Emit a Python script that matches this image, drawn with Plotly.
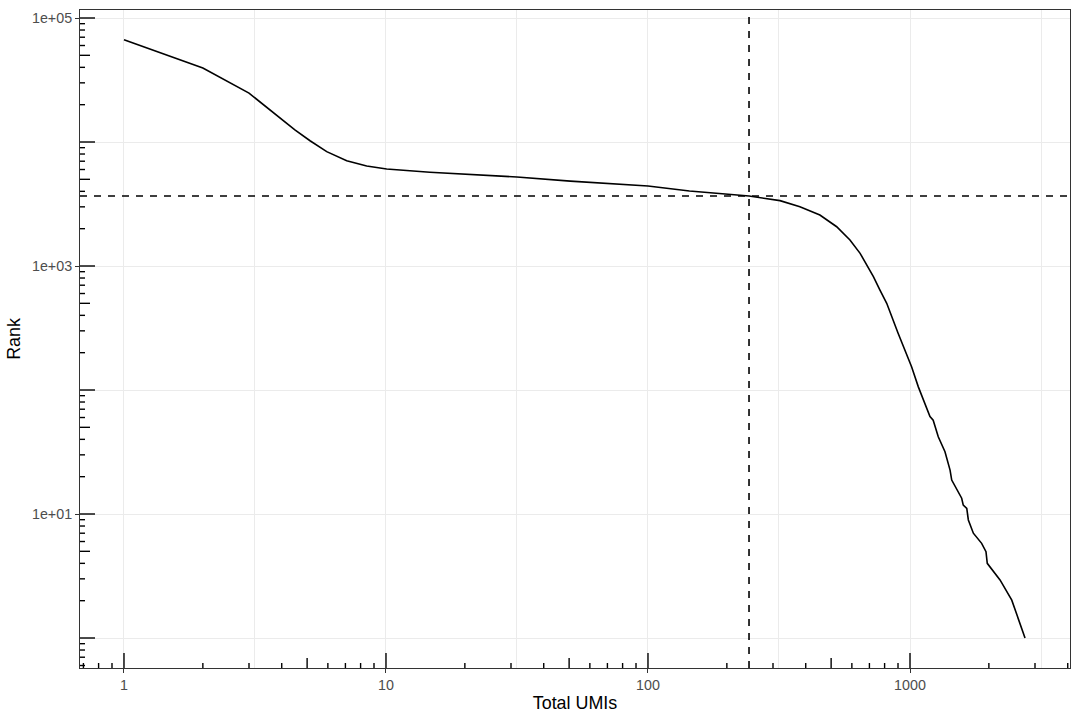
import math
import plotly.graph_objects as go

# ---- data ----
total_umis = [1, 2.0, 3.0, 4.49, 5.13, 5.94, 7.08, 8.44, 10.06, 14.7, 31.6, 50.5, 100, 144,
              243, 268, 319, 380, 453, 525, 590, 645, 683, 725, 768, 815, 900, 1014, 1076, 1192,
              1226, 1282, 1360, 1422, 1443, 1507, 1575, 1597, 1647, 1670, 1745, 1877, 1950, 1972,
              2206, 2446, 2748]
rank = [66700, 39500, 24800, 12500, 10240, 8360, 7060, 6400, 6050, 5700, 5220, 4840, 4420,
        4030, 3670, 3556, 3365, 3008, 2577, 2074, 1620, 1265, 1018, 820, 640, 500, 288, 154, 106,
        61, 57, 42, 31.8, 22.6, 18.8, 16.1, 13.4, 11.8, 11.1, 8.95, 7.0, 5.8, 4.97, 4.0, 2.94,
        2.02, 1]

knee_umis = 243
knee_rank = 3670

x_tick_vals = [1, 10, 100, 1000]
x_tick_text = ["1", "10", "100", "1000"]
y_tick_vals = [10, 1000, 100000]
y_tick_text = ["1e+01", "1e+03", "1e+05"]
x_minor_vals = [10 ** 0.5, 10 ** 1.5, 10 ** 2.5, 10 ** 3.5]
y_minor_vals = [1, 100, 10000]

X_RANGE = [-0.1679, 3.6107]
Y_RANGE = [-0.2419, 5.0645]

fig = go.Figure()

fig.add_trace(go.Scatter(x=total_umis, y=rank, mode="lines",
                         line=dict(color="black", width=1.6),
                         showlegend=False, hoverinfo="skip"))

# knee lines
fig.add_shape(type="line", xref="x", yref="paper", x0=knee_umis, x1=knee_umis, y0=0, y1=1,
              line=dict(color="black", width=1.6, dash="7px,7px"))
fig.add_shape(type="line", xref="paper", yref="y", x0=0, x1=1, y0=knee_rank, y1=knee_rank,
              line=dict(color="black", width=1.6, dash="7px,7px"))

# annotation_logticks (bottom and left)
def tick_len(m):
    return 15 if m == 1 else (10 if m == 5 else 5)

for k in range(-1, 6):
    for m in range(1, 10):
        v = m * 10 ** k
        lv = math.log10(v)
        if X_RANGE[0] <= lv <= X_RANGE[1]:
            fig.add_shape(type="line", xref="x", x0=v, x1=v,
                          yref="paper", ysizemode="pixel", yanchor=0, y0=0, y1=tick_len(m),
                          line=dict(color="black", width=1.4))
        if Y_RANGE[0] <= lv <= Y_RANGE[1]:
            fig.add_shape(type="line", yref="y", y0=v, y1=v,
                          xref="paper", xsizemode="pixel", xanchor=0, x0=0, x1=tick_len(m),
                          line=dict(color="black", width=1.4))

axis_common = dict(
    type="log",
    showline=True, mirror=True, linecolor="#333333", linewidth=1,
    ticks="outside", ticklen=4, tickwidth=1, tickcolor="#333333",
    showgrid=True, gridcolor="#EBEBEB", gridwidth=1.3,
    zeroline=False,
    tickfont=dict(family="Liberation Sans, Arial, sans-serif", size=14.3, color="#4D4D4D"),
)

fig.update_xaxes(**axis_common, range=X_RANGE, tickmode="array",
                 tickvals=x_tick_vals, ticktext=x_tick_text,
                 minor=dict(tickmode="array", tickvals=x_minor_vals, showgrid=True,
                            gridcolor="#EBEBEB", gridwidth=0.8, ticks=""),
                 title=dict(text="Total UMIs", standoff=4,
                            font=dict(family="Liberation Sans, Arial, sans-serif", size=17.9, color="black")))
fig.update_yaxes(**axis_common, range=Y_RANGE, tickmode="array",
                 tickvals=y_tick_vals, ticktext=y_tick_text,
                 minor=dict(tickmode="array", tickvals=y_minor_vals, showgrid=True,
                            gridcolor="#EBEBEB", gridwidth=0.8, ticks=""),
                 title=dict(text="Rank", standoff=6,
                            font=dict(family="Liberation Sans, Arial, sans-serif", size=17.9, color="black")))

fig.update_layout(
    width=1080, height=720,
    margin=dict(l=80, r=10, t=10, b=52, autoexpand=False),
    plot_bgcolor="white", paper_bgcolor="white",
    showlegend=False,
)

fig.write_html("out.html", config={"displayModeBar": False},
               post_script="document.body.style.margin='0';")
